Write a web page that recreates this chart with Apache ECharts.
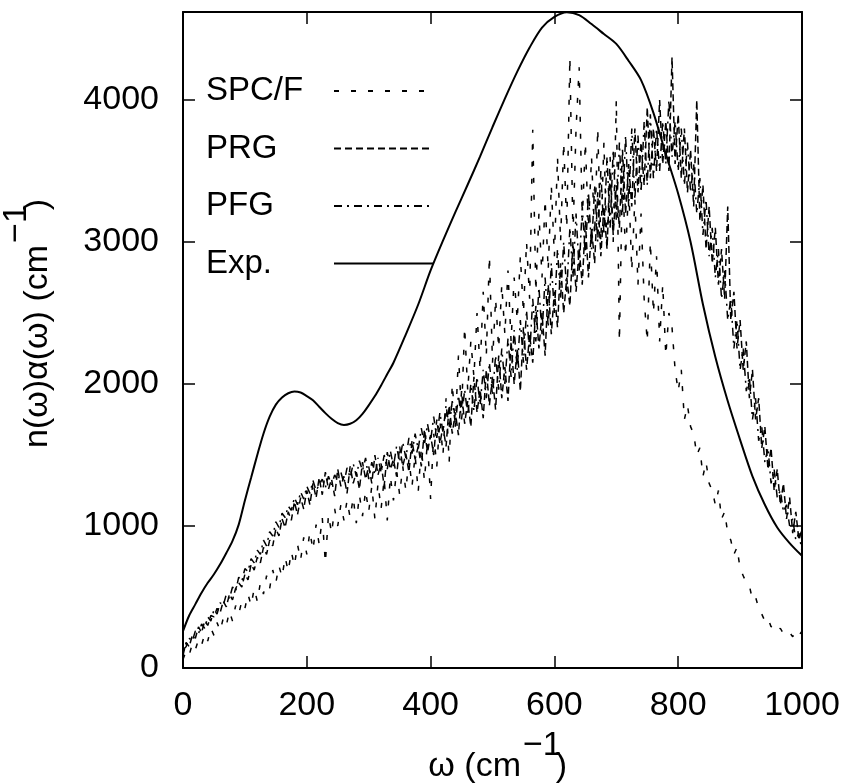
<!DOCTYPE html>
<html><head><meta charset="utf-8">
<script src="https://cdn.jsdelivr.net/npm/echarts@6/dist/echarts.min.js"></script>
<style>html,body{margin:0;padding:0;background:#fff}#chart{width:849px;height:784px}</style>
</head><body><div id="chart"></div>
<script>
// ---- data ----
const omegaStep = 5; // sampling grid of the simulated spectra, cm^-1 (0..1000)
const spcfValues = [
60,120,90,170,130,200,160,240,190,280,
230,320,260,350,300,400,330,440,380,470,
420,520,440,560,470,600,520,650,560,690,
600,720,640,780,680,820,720,870,760,920,
800,960,830,1010,870,1060,740,1080,950,1120,
1000,1150,1040,1180,1060,1200,1020,1220,1070,1250,
1100,1280,1050,1300,1120,1330,1040,1350,1180,1390,
1220,1420,1250,1470,1280,1500,1240,1550,1320,1600,
1190,1650,1420,1750,1500,1900,1450,2000,1700,2200,
1800,2400,1950,2300,2050,2500,2100,2650,2200,2900,
2150,2600,2250,2700,2350,2800,2300,2750,2450,2900,
2500,3000,2600,3790,2650,3200,2750,3300,2800,3400,
2900,3600,3000,3700,3100,4300,3050,3800,4230,3150,
3700,3100,3600,3050,3800,3000,3700,2950,3600,3000,
4000,2300,3500,2900,3400,2800,3300,2700,3200,2600,
2300,3000,2500,2900,2300,2700,2200,2500,2400,2100,
1950,2100,1750,1850,1700,1650,1500,1550,1350,1450,
1300,1250,1150,1250,1050,1100,950,900,800,850,
700,650,600,580,480,500,420,380,330,350,
290,300,260,280,240,230,250,220,260,230,
260];
const prgValues = [
90,180,150,230,210,290,250,330,300,370,
360,420,390,470,430,520,480,560,600,570,
660,620,730,690,780,740,850,800,900,860,
980,930,1050,990,1100,1040,1170,1080,1200,1120,
1250,1150,1300,1200,1340,1220,1380,1260,1330,1210,
1400,1280,1350,1230,1420,1300,1380,1260,1450,1330,
1420,1300,1500,1360,1440,1280,1520,1400,1470,1350,
1560,1420,1510,1380,1600,1470,1560,1420,1680,1520,
1640,1500,1750,1580,1700,1560,1850,1650,1800,1640,
1950,1720,1880,1700,2050,1800,1960,1760,2100,1850,
2050,1820,2200,1900,2120,1880,2300,2000,2250,1950,
2400,2100,2350,2150,2550,2250,2500,2200,2700,2350,
2650,2400,2850,2500,2750,2550,3000,2650,2950,2700,
3150,2750,3100,2850,3350,2900,3250,2950,3500,3050,
3400,3100,3650,3200,3550,3250,3800,3350,3700,3400,
3950,3450,3800,3500,4000,3550,3850,3500,4300,3550,
3900,3450,3800,3350,3650,3250,4000,3150,3400,2950,
3250,2850,3100,2700,2950,2600,3250,2450,2650,2250,
2450,2100,2300,1900,2100,1750,1900,1550,1700,1400,
1550,1250,1400,1150,1300,1050,1200,950,1100,900,
980];
const pfgValues = [
130,150,210,190,260,240,310,280,360,330,
410,380,460,440,520,490,570,540,640,610,
700,680,770,740,830,800,900,860,960,930,
1030,990,1090,1060,1140,1110,1200,1150,1240,1190,
1280,1230,1320,1250,1290,1330,1270,1350,1290,1360,
1320,1380,1300,1410,1340,1440,1350,1460,1390,1480,
1330,1450,1360,1480,1380,1500,1400,1530,1420,1560,
1450,1590,1480,1620,1510,1650,1540,1690,1570,1720,
1600,1770,1620,1800,1660,1850,1690,1880,1720,1920,
1750,1960,1780,2000,1810,2050,1850,2100,1900,2150,
1920,2200,1960,2250,2000,2320,2050,2380,2100,2450,
2150,2520,2200,2600,2300,2680,2350,2750,2400,2850,
2500,2950,2600,3000,2650,3100,2750,3200,2800,3250,
2900,3350,2950,3400,3000,3500,3050,3600,3100,3650,
3150,3700,3200,3750,3250,3800,3300,3750,3350,3850,
3400,3900,3450,3800,3500,3850,3550,4000,3600,3850,
3500,3800,3400,3700,3350,3550,3200,3450,3050,3300,
2900,3100,2750,2950,2600,2800,2450,2600,2250,2450,
2100,2250,1950,2050,1750,1900,1600,1700,1450,1550,
1300,1400,1200,1250,1100,1150,1000,1050,900,950,
820];
const expOmega = [0,10,20,30,40,50,60,70,80,90,100,110,120,130,140,150,160,170,180,190,
200,210,220,230,240,250,260,270,280,290,300,310,320,330,340,360,380,400,420,440,
460,480,500,520,540,560,580,600,620,640,660,680,700,720,740,760,780,800,820,840,
860,880,900,920,940,960,980,1000];
const expValues = [260,370,450,530,600,660,730,810,895,1010,1180,1340,1500,1650,1770,1855,1905,1935,1947,1940,
1915,1885,1840,1795,1755,1725,1712,1720,1745,1790,1850,1915,1990,2070,2150,2350,2560,2800,3010,3210,
3405,3603,3810,4010,4200,4370,4510,4585,4618,4598,4535,4465,4395,4275,4140,3910,3620,3340,3000,2560,
2190,1880,1607,1350,1150,990,880,790];
const seriesNames = ['SPC/F', 'PRG', 'PFG', 'Exp.'];
const xTickLabels = [0, 200, 400, 600, 800, 1000];
const yTickLabels = [0, 1000, 2000, 3000, 4000];
const xTitle = ['ω (cm', '−1', ')'];
const yTitle = ['n(ω)α(ω) (cm', '−1', ')'];

// ---- build ----
const FAMILY = '"Liberation Sans", Arial, Helvetica, sans-serif';
const FONT = '34px ' + FAMILY;
const toPairs = (vals) => vals.map((v, i) => [i * omegaStep, v]);
const expPairs = expOmega.map((x, i) => [x, expValues[i]]);

const ctx = document.createElement('canvas').getContext('2d');
ctx.font = FONT;
const mw = (s) => ctx.measureText(s).width;

// x title pieces
const xw1 = mw(xTitle[0]), xw2 = mw(xTitle[1]);
const xT1Right = 521, xMid = 767, sup = 21;
// y title pieces
const yw1 = mw(yTitle[0]), yw2 = mw(yTitle[1]);
const yStart = 448, yMid = 38;

function txt(text, x, y, align, rot) {
  return {
    type: 'text', x: x, y: y, rotation: rot || 0, silent: true,
    style: { text: text, font: FONT, fill: '#000', align: align, textAlign: align,
             verticalAlign: 'middle', textVerticalAlign: 'middle' }
  };
}

const black = '#000';
const axisCommon = {
  type: 'value',
  axisLine: { show: true, onZero: false, lineStyle: { color: black, width: 2 } },
  axisTick: { show: true, inside: true, length: 12, lineStyle: { color: black, width: 1.5 } },
  splitLine: { show: false }
};

const option = {
  animation: false,
  backgroundColor: '#fff',
  grid: { left: 183, top: 12, width: 619, height: 656, containLabel: false },
  xAxis: [
    Object.assign({}, axisCommon, {
      position: 'bottom', min: 0, max: 1000, interval: 200,
      axisLabel: { show: true, margin: 21, color: black, fontSize: 34, fontFamily: FAMILY,
        formatter: (v) => xTickLabels.includes(v) ? String(v) : '' }
    }),
    Object.assign({}, axisCommon, {
      position: 'top', min: 0, max: 1000, interval: 200, axisLabel: { show: false }
    })
  ],
  yAxis: [
    Object.assign({}, axisCommon, {
      position: 'left', min: 0, max: 4620, interval: 1000,
      axisLabel: { show: true, margin: 24, color: black, fontSize: 34, fontFamily: FAMILY,
        formatter: (v) => yTickLabels.includes(v) ? String(v) : '' }
    }),
    Object.assign({}, axisCommon, {
      position: 'right', min: 0, max: 4620, interval: 1000, axisLabel: { show: false }
    })
  ],
  legend: {
    orient: 'vertical', left: 206, top: 74.5, padding: 0, align: 'right',
    itemWidth: 99, itemHeight: 14, itemGap: 24.5, selectedMode: false,
    data: seriesNames,
    itemStyle: { opacity: 0, borderWidth: 0 },
    formatter: '{a|{name}}',
    textStyle: { rich: { a: { width: 123, align: 'left', fontSize: 33, fontFamily: FAMILY, color: black, lineHeight: 40 } } }
  },
  series: [
    { name: seriesNames[0], type: 'line', data: toPairs(spcfValues), showSymbol: false, symbol: 'none',
      lineStyle: { color: black, width: 1.5, type: [5, 12] }, itemStyle: { color: black } },
    { name: seriesNames[1], type: 'line', data: toPairs(prgValues), showSymbol: false, symbol: 'none',
      lineStyle: { color: black, width: 1.5, type: [7, 4] }, itemStyle: { color: black } },
    { name: seriesNames[2], type: 'line', data: toPairs(pfgValues), showSymbol: false, symbol: 'none',
      lineStyle: { color: black, width: 1.5, type: [8, 5, 2, 5] }, itemStyle: { color: black } },
    { name: seriesNames[3], type: 'line', data: expPairs, showSymbol: false, symbol: 'none', smooth: 0.3,
      lineStyle: { color: black, width: 2, type: 'solid' }, itemStyle: { color: black } }
  ],
  graphic: [
    txt(xTitle[0], xT1Right, xMid, 'right'),
    txt(xTitle[1], xT1Right + 2, xMid - sup, 'left'),
    txt(xTitle[2], xT1Right + xw2 - 4, xMid, 'left'),
    txt(yTitle[0], yMid, yStart, 'left', Math.PI / 2),
    txt(yTitle[1], yMid - sup, yStart - yw1 - 2, 'left', Math.PI / 2),
    txt(yTitle[2], yMid, yStart - yw1 - yw2 + 4, 'left', Math.PI / 2)
  ]
};

const chart = echarts.init(document.getElementById('chart'), null, { renderer: 'canvas' });
chart.setOption(option);
</script>
</body></html>
